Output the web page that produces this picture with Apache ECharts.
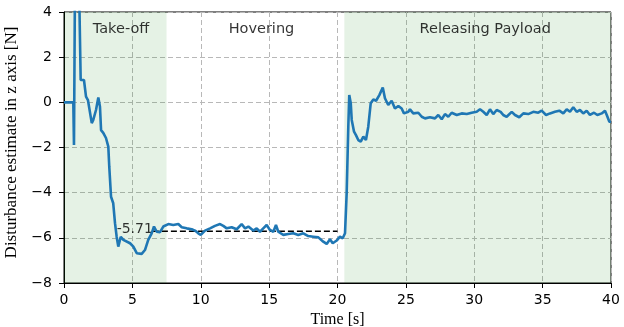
<!DOCTYPE html>
<html>
<head>
<meta charset="utf-8">
<script src="https://cdn.jsdelivr.net/npm/echarts@6/dist/echarts.min.js"></script>
<style>
html,body{margin:0;padding:0;background:#fff;}
#chart{width:624px;height:327px;}
</style>
</head>
<body>
<div id="chart"></div>
<script>
// Time stamps [s]
var time = [0, 0.68, 0.73, 0.82, 1.05, 1.22, 1.32, 1.46, 1.61, 1.75, 2.03, 2.14, 2.34, 2.51, 2.63, 2.71, 2.87, 3.07, 3.24, 3.31, 3.44, 3.60, 3.73, 3.85, 3.97, 4.15, 4.34, 4.83, 5.07, 5.32, 5.68, 5.92, 6.16, 6.41, 6.58, 6.78, 7.02, 7.26, 7.63, 7.99, 8.36, 8.61, 8.97, 9.34, 9.58, 9.82, 10.00, 10.31, 10.68, 11.04, 11.41, 11.65, 11.90, 12.26, 12.63, 12.99, 13.24, 13.48, 13.84, 14.09, 14.33, 14.57, 14.82, 15.06, 15.31, 15.50, 15.67, 16.04, 16.40, 16.77, 17.13, 17.50, 17.86, 18.23, 18.60, 18.96, 19.21, 19.45, 19.65, 19.94, 20.18, 20.38, 20.55, 20.67, 20.79, 20.86, 20.97, 21.04, 21.21, 21.35, 21.52, 21.70, 21.89, 22.08, 22.25, 22.43, 22.62, 22.82, 23.06, 23.31, 23.47, 23.71, 23.96, 24.20, 24.45, 24.69, 24.86, 25.18, 25.30, 25.54, 25.91, 26.16, 26.40, 26.76, 27.13, 27.37, 27.62, 27.86, 28.10, 28.35, 28.72, 29.08, 29.45, 29.81, 30.18, 30.42, 30.66, 30.91, 31.15, 31.39, 31.64, 31.93, 32.12, 32.37, 32.74, 32.98, 33.29, 33.59, 33.95, 34.32, 34.68, 34.93, 35.25, 35.54, 35.90, 36.22, 36.51, 36.76, 37.00, 37.24, 37.49, 37.73, 37.97, 38.22, 38.46, 38.76, 39.00, 39.32, 39.56, 39.69, 39.88, 40.0];
// Disturbance estimate in z axis [N]
var disturbance = [0, 0, -1.89, 7, 7, 0.99, 0.91, 0.99, 0.25, 0.10, -0.92, -0.78, -0.34, 0.22, -0.19, -1.23, -1.35, -1.58, -1.96, -2.85, -4.18, -4.47, -5.35, -5.95, -6.39, -5.95, -6.09, -6.24, -6.39, -6.68, -6.71, -6.54, -6.09, -5.80, -5.50, -5.73, -5.75, -5.50, -5.39, -5.43, -5.39, -5.53, -5.58, -5.62, -5.68, -5.80, -5.87, -5.68, -5.58, -5.47, -5.39, -5.47, -5.58, -5.53, -5.62, -5.39, -5.58, -5.50, -5.68, -5.58, -5.73, -5.58, -5.43, -5.65, -5.73, -5.43, -5.73, -5.87, -5.83, -5.80, -5.87, -5.80, -5.92, -5.95, -5.98, -6.17, -6.27, -6.06, -6.24, -6.12, -5.95, -6.02, -5.80, -4.03, -1.08, 0.32, -0.04, -0.78, -1.30, -1.45, -1.67, -1.74, -1.52, -1.67, -1.08, -0.04, 0.13, 0.07, 0.32, 0.66, 0.18, -0.12, 0.07, -0.27, -0.16, -0.27, -0.49, -0.42, -0.31, -0.49, -0.46, -0.64, -0.71, -0.66, -0.71, -0.56, -0.75, -0.52, -0.64, -0.46, -0.56, -0.49, -0.52, -0.46, -0.42, -0.31, -0.42, -0.56, -0.31, -0.52, -0.34, -0.42, -0.56, -0.64, -0.42, -0.56, -0.66, -0.49, -0.52, -0.42, -0.46, -0.37, -0.56, -0.49, -0.42, -0.37, -0.49, -0.31, -0.42, -0.22, -0.42, -0.34, -0.49, -0.37, -0.56, -0.46, -0.56, -0.49, -0.37, -0.56, -0.86, -0.86];

// Flight phases
var phaseNames = ['Take-off', 'Hovering', 'Releasing Payload'];
var phaseLabelX = [4.17, 14.44, 30.8];
var phaseLabelY = 3.24;
var shadedStart = [0, 20.5];
var shadedEnd = [7.5, 40];

// Mean hover disturbance reference line
var refValue = -5.71;
var refStart = 6.5;
var refEnd = 20;
var refText = '-5.71';

// Axis ticks
var xTicks = [0, 5, 10, 15, 20, 25, 30, 35, 40];
var yTicks = [-8, -6, -4, -2, 0, 2, 4];

var lineData = time.map(function (t, i) { return [t, disturbance[i]]; });
var areas = shadedStart.map(function (s, i) { return [{xAxis: s}, {xAxis: shadedEnd[i]}]; });
var phaseData = phaseNames.map(function (n, i) { return {value: [phaseLabelX[i], phaseLabelY], name: n}; });

var chart = echarts.init(document.getElementById('chart'), null, {renderer: 'canvas'});
var tickFont = {fontFamily: 'DejaVu Sans', fontSize: 14, color: '#000'};
var gridLine = {show: true, lineStyle: {color: '#b8b8b8', type: [5, 3], width: 1}};
chart.setOption({
  animation: false,
  backgroundColor: '#fff',
  grid: {left: 64, right: 13, top: 12, bottom: 44, containLabel: false, outerBoundsMode: 'none', show: true, borderColor: '#000', borderWidth: 1, backgroundColor: 'transparent'},
  xAxis: {
    type: 'value', min: xTicks[0], max: xTicks[xTicks.length - 1], interval: 5,
    name: 'Time [s]', nameLocation: 'middle', nameGap: 28,
    nameTextStyle: {fontFamily: 'Liberation Serif', fontSize: 16, color: '#000'},
    axisLine: {show: true, onZero: false, lineStyle: {color: '#000', width: 1}},
    axisTick: {show: true, length: 5, inside: false, lineStyle: {color: '#000'}},
    axisLabel: Object.assign({margin: 10}, tickFont),
    splitLine: gridLine
  },
  yAxis: {
    type: 'value', min: yTicks[0], max: yTicks[yTicks.length - 1], interval: 2,
    name: 'Disturbance estimate in z axis [N]', nameLocation: 'middle', nameGap: 39,
    nameTextStyle: {fontFamily: 'Liberation Serif', fontSize: 17, color: '#000', padding: [0, 0, 0, 10]},
    axisLine: {show: true, onZero: false, lineStyle: {color: '#000', width: 1}},
    axisTick: {show: true, length: 5, inside: false, lineStyle: {color: '#000'}},
    axisLabel: Object.assign({margin: 12, formatter: function (v) { return String(v).replace('-', '\u2212'); }}, tickFont),
    splitLine: gridLine
  },
  series: [
    {
      type: 'line', data: [], silent: true,
      markArea: {silent: true, itemStyle: {color: 'rgba(0,128,0,0.1)'}, data: areas}
    },
    {
      type: 'scatter', data: phaseData, symbolSize: 0, silent: true,
      label: {show: true, position: 'inside', formatter: '{b}', fontFamily: 'DejaVu Sans', fontSize: 14.5, color: '#000', textBorderWidth: 0}
    },
    {
      type: 'line', data: [[refStart, refValue], [refEnd, refValue]], showSymbol: false, silent: true,
      lineStyle: {color: '#000', width: 1.5, type: [6, 3]}, z: 3,
      label: {show: false}
    },
    {
      type: 'scatter', data: [{value: [refStart, refValue], name: refText}], symbolSize: 0, silent: true,
      label: {show: true, position: 'left', distance: 0, offset: [0, -2], formatter: '{b}', fontFamily: 'DejaVu Sans', fontSize: 14, color: '#000', textBorderWidth: 0}
    },
    {
      type: 'line', data: lineData, showSymbol: false, silent: true, clip: true, z: 4,
      lineStyle: {color: '#1f77b4', width: 2.6}
    }
  ]
});
</script>
</body>
</html>
